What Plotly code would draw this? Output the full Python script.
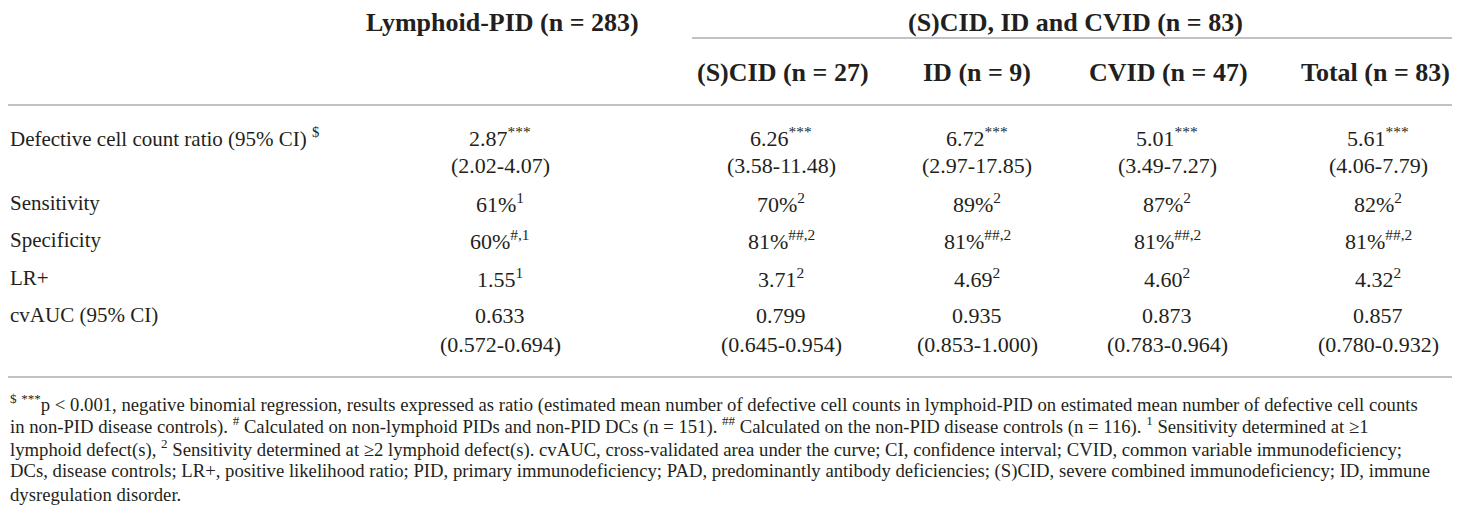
import plotly.graph_objects as go

# --- TABLE CONTENT ---
group_headers = ["Lymphoid-PID (n = 283)", "(S)CID, ID and CVID (n = 83)"]
sub_headers = ["(S)CID (n = 27)", "ID (n = 9)", "CVID (n = 47)", "Total (n = 83)"]
row_labels = [
    "Defective cell count ratio (95% CI) <sup>$</sup>",
    "Sensitivity",
    "Specificity",
    "LR+",
    "cvAUC (95% CI)",
]

# columns: Lymphoid-PID, (S)CID, ID, CVID, Total
ratio = ["2.87", "6.26", "6.72", "5.01", "5.61"]
ratio_ci = ["(2.02-4.07)", "(3.58-11.48)", "(2.97-17.85)", "(3.49-7.27)", "(4.06-7.79)"]
sensitivity = ["61%", "70%", "89%", "87%", "82%"]
sens_sup = ["1", "2", "2", "2", "2"]
specificity = ["60%", "81%", "81%", "81%", "81%"]
spec_sup = ["#,1", "##,2", "##,2", "##,2", "##,2"]
lr_pos = ["1.55", "3.71", "4.69", "4.60", "4.32"]
lr_sup = ["1", "2", "2", "2", "2"]
cvauc = ["0.633", "0.799", "0.935", "0.873", "0.857"]
cvauc_ci = ["(0.572-0.694)", "(0.645-0.954)", "(0.853-1.000)", "(0.783-0.964)", "(0.780-0.932)"]

footnote_lines = [
    "<sup>$</sup> <sup>***</sup>p &lt; 0.001, negative binomial regression, results expressed as ratio (estimated mean number of defective cell counts in lymphoid-PID on estimated mean number of defective cell counts",
    "in non-PID disease controls). <sup>#</sup> Calculated on non-lymphoid PIDs and non-PID DCs (n = 151). <sup>##</sup> Calculated on the non-PID disease controls (n = 116). <sup>1</sup> Sensitivity determined at ≥1",
    "lymphoid defect(s), <sup>2</sup> Sensitivity determined at ≥2 lymphoid defect(s). cvAUC, cross-validated area under the curve; CI, confidence interval; CVID, common variable immunodeficiency;",
    "DCs, disease controls; LR+, positive likelihood ratio; PID, primary immunodeficiency; PAD, predominantly antibody deficiencies; (S)CID, severe combined immunodeficiency; ID, immune",
    "dysregulation disorder.",
]

# --- LAYOUT POSITIONS (page pixels) ---
W, H = 1460, 514
OFF = 8  # default body margin of the page
col_x = [500, 781, 977, 1167, 1378]
sub_x = [783, 977, 1168, 1375]
group_x = [502, 1075]
row_y = [[137, 165], [203], [240], [278], [315, 344]]
foot_y = [403, 425, 448, 471, 494]

FONT = "Liberation Serif"
INK = "#231f20"
RULE = "#c2c2c2"

fig = go.Figure()
fig.add_trace(go.Scatter(x=[OFF, W - OFF], y=[OFF, H - OFF], mode="markers", marker=dict(opacity=0),
                         hoverinfo="skip", showlegend=False))


def txt(x, y, s, size=21, bold=False, anchor="center"):
    fig.add_annotation(
        x=x, y=y, text=f"<b>{s}</b>" if bold else s, showarrow=False,
        xanchor=anchor, yanchor="middle",
        font=dict(family=FONT, size=size, color=INK),
    )


# headers
for gx, g in zip(group_x, group_headers):
    txt(gx, 22, g, size=26, bold=True)
for sx, s in zip(sub_x, sub_headers):
    txt(sx, 72, s, size=26, bold=True)

# row labels
for lbl, ys in zip(row_labels, row_y):
    txt(OFF, ys[0], lbl, anchor="left")

# cells
for i, cx in enumerate(col_x):
    txt(cx, row_y[0][0], ratio[i] + "<sup>***</sup>", size=22)
    txt(cx, row_y[0][1], ratio_ci[i], size=22)
    txt(cx, row_y[1][0], sensitivity[i] + "<sup>" + sens_sup[i] + "</sup>", size=22)
    txt(cx, row_y[2][0], specificity[i] + "<sup>" + spec_sup[i] + "</sup>", size=22)
    txt(cx, row_y[3][0], lr_pos[i] + "<sup>" + lr_sup[i] + "</sup>", size=22)
    txt(cx, row_y[4][0], cvauc[i], size=22)
    txt(cx, row_y[4][1], cvauc_ci[i], size=22)

# footnotes
for fy, line in zip(foot_y, footnote_lines):
    txt(OFF, fy, line, size=18.7, anchor="left")

# rules
fig.add_shape(type="line", x0=692, x1=W, y0=38, y1=38, line=dict(color=RULE, width=2))
fig.add_shape(type="line", x0=OFF, x1=W, y0=105, y1=105, line=dict(color=RULE, width=2))
fig.add_shape(type="line", x0=OFF, x1=W, y0=377, y1=377, line=dict(color=RULE, width=2))

fig.update_xaxes(range=[OFF, W - OFF], visible=False, fixedrange=True)
fig.update_yaxes(range=[H - OFF, OFF], visible=False, fixedrange=True)
fig.update_layout(
    width=W - 2 * OFF, height=H - 2 * OFF, margin=dict(l=0, r=0, t=0, b=0),
    plot_bgcolor="white", paper_bgcolor="white",
)

fig.write_html("out.html")
